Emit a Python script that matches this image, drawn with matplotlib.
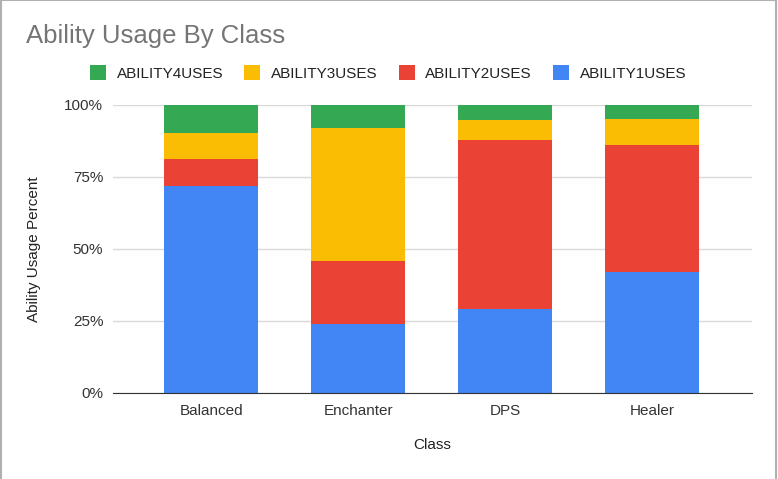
import numpy as np
import matplotlib.pyplot as plt
from matplotlib.patches import Rectangle

plt.rcParams['font.family'] = ['Liberation Sans', 'DejaVu Sans']

classes = ["Balanced", "Enchanter", "DPS", "Healer"]
# percent of ability uses per class
ability1 = [71.9, 24.0, 29.1, 41.9]
ability2 = [9.2, 21.9, 58.6, 44.2]
ability3 = [9.1, 46.1, 7.0, 8.9]
ability4 = [9.8, 8.0, 5.3, 5.0]

series_names = ["ABILITY1USES", "ABILITY2USES", "ABILITY3USES", "ABILITY4USES"]
colors = ["#4285F4", "#EA4335", "#FBBC04", "#34A853"]

fig = plt.figure(figsize=(7.78, 4.79), dpi=100)
ax = fig.add_axes([113 / 778, 86 / 479, 639 / 778, 288 / 479])

data = np.array([ability1, ability2, ability3, ability4])
data = data / data.sum(axis=0)
x = np.arange(len(classes))
bottom = np.zeros(len(classes))
handles = []
for vals, name, c in zip(data, series_names, colors):
    h = ax.bar(x, vals, 0.64, bottom=bottom, color=c, label=name, zorder=3)
    handles.append(h)
    bottom += vals

ax.set_xlim(-0.67, 3.68)
ax.set_ylim(0, 1)
ax.set_yticks([0, 0.25, 0.5, 0.75, 1.0])
ax.set_yticklabels(["0%", "25%", "50%", "75%", "100%"])
ax.set_xticks(x)
ax.set_xticklabels(classes)
ax.tick_params(axis='both', length=0, labelsize=11, colors="#333333")
ax.tick_params(axis='y', pad=7)
ax.tick_params(axis='x', pad=8)
ax.grid(axis='y', color="#d9d9d9", linewidth=1, zorder=0)
for s in ["top", "right", "left"]:
    ax.spines[s].set_visible(False)
ax.spines["bottom"].set_color("#333333")
ax.spines["bottom"].set_zorder(4)

ax.set_xlabel("Class", fontsize=11, color="#222222", labelpad=14)
ax.set_ylabel("Ability Usage Percent", fontsize=11, color="#222222", labelpad=17)

fig.text(26 / 778, 1 - 36 / 479, "Ability Usage By Class", fontsize=18.5,
         color="#757575", va="center", ha="left")

leg = fig.legend(handles[::-1], series_names[::-1], loc="center left",
                 bbox_to_anchor=(84 / 778, 1 - 73 / 479), ncol=4, frameon=False,
                 fontsize=11, handlelength=1.05, handleheight=1.05,
                 handletextpad=0.7, columnspacing=1.37, borderaxespad=0)
for t in leg.get_texts():
    t.set_color("#222222")

# outer frame: left, top and right edges only
fig.add_artist(plt.Line2D([0.001, 0.001, 0.9975, 0.9975], [0, 0.999, 0.999, 0],
                          transform=fig.transFigure, color="#b0b0b0", linewidth=1.5))

fig.savefig("out.png", dpi=100)
